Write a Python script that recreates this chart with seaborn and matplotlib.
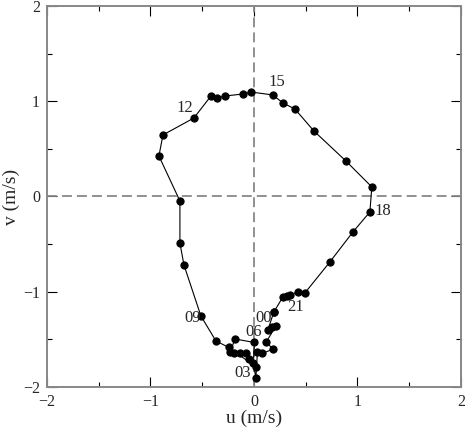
import matplotlib
matplotlib.use('Agg')
import matplotlib.pyplot as plt
import numpy as np
import pandas as pd
import seaborn as sns
from matplotlib.ticker import MultipleLocator

# half-hourly mean current vector, starting at 00 h
u = [0.193, 0.135, 0.174, 0.213, 0.116, 0.188, 0.082, 0.034, 0.019, -0.005,
     0.005, -0.184, -0.227, -0.193, -0.135, -0.077, -0.043, 0.019, -0.242,
     -0.367, -0.512, -0.676, -0.715, -0.715, -0.918, -0.879, -0.580, -0.415,
     -0.357, -0.280, -0.106, -0.029, 0.184, 0.280, 0.396, 0.580, 0.889,
     1.140, 1.121, 0.957, 0.734, 0.493, 0.425, 0.348, 0.319, 0.280, 0.193]
v = [-1.213, -1.401, -1.375, -1.360, -1.533, -1.601, -1.648, -1.638, -1.906,
     -1.751, -1.533, -1.496, -1.633, -1.643, -1.648, -1.648, -1.706, -1.790,
     -1.585, -1.517, -1.255, -0.719, -0.488, -0.047, 0.425, 0.646, 0.824,
     1.055, 1.034, 1.055, 1.076, 1.097, 1.066, 0.982, 0.919, 0.688, 0.373,
     0.100, -0.163, -0.373, -0.688, -1.013, -1.003, -1.034, -1.045, -1.055,
     -1.213]

# hour labels and where their text sits
hour_labels = ['00', '03', '06', '09', '12', '15', '18', '21']
label_u = [0.09, -0.105, 0.0, -0.59, -0.665, 0.22, 1.25, 0.4]
label_v = [-1.275, -1.855, -1.42, -1.275, 0.925, 1.2, -0.155, -1.16]

df = pd.DataFrame({'u': u, 'v': v})

sns.set_style('ticks')
plt.rcParams['font.family'] = ['Liberation Serif', 'DejaVu Serif']

fig = plt.figure(figsize=(4.65, 4.29), dpi=100)
ax = fig.add_axes([0.101, 0.098, 0.890, 0.888])

dash = (0, (5.5, 2.8))
ax.axhline(0, color='#888888', linestyle=dash, linewidth=1.3, zorder=1)
ax.axvline(0, color='#888888', linestyle=dash, linewidth=1.3, zorder=1)

sns.lineplot(x='u', y='v', data=df, sort=False, estimator=None, ax=ax,
             color='black', linewidth=0.8, marker='o', markersize=5.2,
             markeredgecolor='black', zorder=3)

for lab, lu, lv in zip(hour_labels, label_u, label_v):
    ax.text(lu, lv, lab, fontsize=12, ha='center', va='center', zorder=4)

ax.set_xlim(-2, 2)
ax.set_ylim(-2, 2)
ax.xaxis.set_major_locator(MultipleLocator(1))
ax.yaxis.set_major_locator(MultipleLocator(1))
ax.xaxis.set_minor_locator(MultipleLocator(0.5))
ax.yaxis.set_minor_locator(MultipleLocator(0.5))
ax.tick_params(which='both', direction='in', top=True, right=True,
               labelsize=11.5, color='black', width=0.8, pad=5)
ax.tick_params(which='major', length=7)
ax.tick_params(which='minor', length=3.5)
for sp in ax.spines.values():
    sp.set_color('#888888')
    sp.set_linewidth(1.4)

ax.set_xlabel('u (m/s)', fontsize=14, labelpad=0)
ax.set_ylabel('v (m/s)', fontsize=14, labelpad=2)

fig.savefig('out.png', dpi=100)
